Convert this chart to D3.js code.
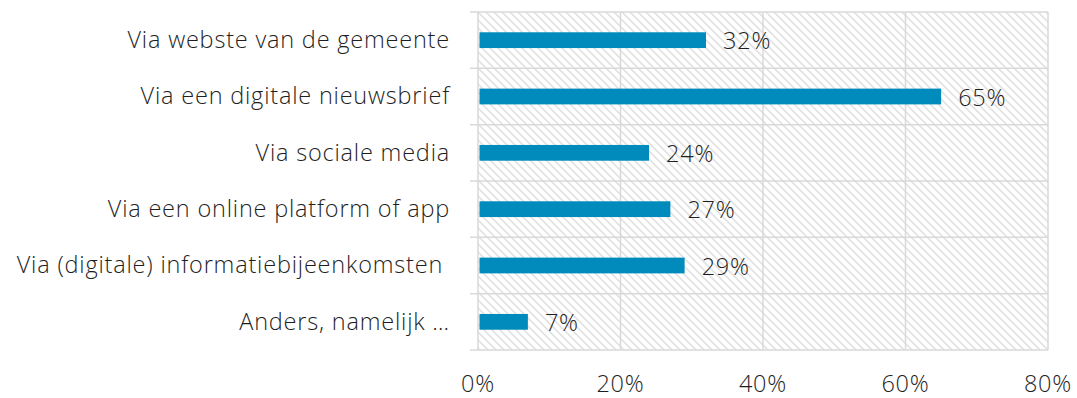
<!DOCTYPE html>
<html>
<head>
<meta charset="utf-8">
<script src="https://cdn.jsdelivr.net/npm/d3@7"></script>
<style>
  html, body { margin: 0; padding: 0; background: #fff; }
  svg text { font-family: "Open Sans", sans-serif; font-weight: 300; fill: #1f1f1f; letter-spacing: 0.8px; white-space: pre; }
</style>
</head>
<body>
<svg id="chart" width="1077" height="398"></svg>
<script>
const categories = [
  "Via webste van de gemeente",
  "Via een digitale nieuwsbrief",
  "Via sociale media",
  "Via een online platform of app",
  "Via (digitale) informatiebijeenkomsten ",
  "Anders, namelijk \u2026"
];
const values = [32, 65, 24, 27, 29, 7];
const xTicks = [0, 20, 40, 60, 80];

const svg = d3.select("#chart");
const margin = { left: 478, right: 29, top: 12, bottom: 48 };
const W = 1077, H = 398;
const innerW = W - margin.left - margin.right;
const innerH = H - margin.top - margin.bottom;

const x = d3.scaleLinear().domain([0, 80]).range([0, innerW]);
const y = d3.scaleBand().domain(categories).range([0, innerH]).paddingInner(0.72).paddingOuter(0.36);
const yb = d3.scaleBand().domain(categories).range([0, innerH]);

// diagonal hatch fill for the plot area
const defs = svg.append("defs");
const pat = defs.append("pattern")
  .attr("id", "hatch").attr("patternUnits", "userSpaceOnUse")
  .attr("width", 8).attr("height", 8);
pat.append("path")
  .attr("d", "M-2,-2 L10,10 M-2,6 L2,10 M6,-2 L10,2")
  .attr("stroke", "#e2e2e2").attr("stroke-width", 1.6).attr("fill", "none");

const g = svg.append("g").attr("transform", `translate(${margin.left},${margin.top})`);

g.append("rect").attr("width", innerW).attr("height", innerH).attr("fill", "url(#hatch)");

// vertical gridlines
g.selectAll(".vgrid").data(xTicks).join("line")
  .attr("x1", d => x(d)).attr("x2", d => x(d))
  .attr("y1", 0).attr("y2", innerH)
  .attr("stroke", "#d9d9d9").attr("stroke-width", 1.5);

// horizontal lines at category boundaries (extend left as tick marks)
const bounds = categories.map(c => yb(c)).concat([innerH]);
g.selectAll(".hgrid").data(bounds).join("line")
  .attr("x1", -8).attr("x2", innerW)
  .attr("y1", d => d).attr("y2", d => d)
  .attr("stroke", "#d9d9d9").attr("stroke-width", 1.5);

// bars
g.selectAll(".bar").data(values).join("rect")
  .attr("x", x(0) + 1.5)
  .attr("y", (d, i) => y(categories[i]))
  .attr("width", d => x(d) - 1.5)
  .attr("height", y.bandwidth())
  .attr("fill", "#008bbc");

// value labels
g.selectAll(".val").data(values).join("text")
  .attr("x", d => x(d) + 17)
  .attr("y", (d, i) => y(categories[i]) + y.bandwidth() / 2 + 1)
  .attr("dy", "0.35em")
  .attr("font-size", 23.5)
  .text(d => d + "%");

// category labels
g.selectAll(".cat").data(categories).join("text")
  .attr("x", -28)
  .attr("y", d => yb(d) + yb.bandwidth() / 2 - 0.5)
  .attr("dy", "0.35em")
  .attr("text-anchor", "end")
  .attr("font-size", 23.5)
  .text(d => d);

// x tick labels
g.selectAll(".xt").data(xTicks).join("text")
  .attr("x", d => x(d))
  .attr("y", innerH + 42)
  .attr("text-anchor", "middle")
  .attr("font-size", 23.5)
  .text(d => d + "%");
</script>
</body>
</html>
